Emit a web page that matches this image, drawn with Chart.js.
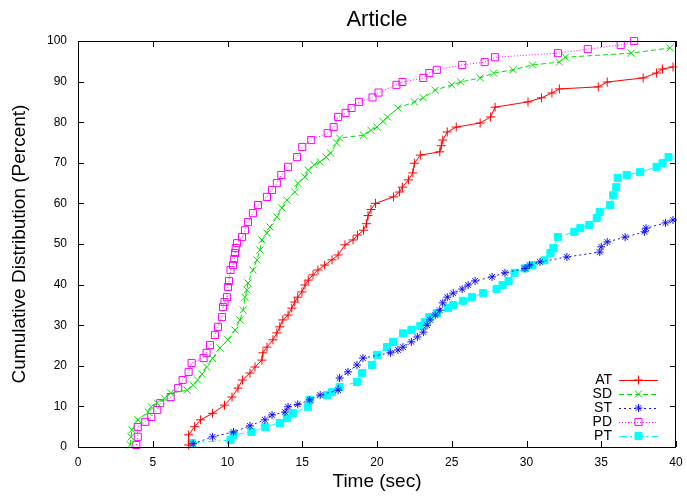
<!DOCTYPE html>
<html>
<head>
<meta charset="utf-8">
<script src="https://cdn.jsdelivr.net/npm/chart.js@4/dist/chart.umd.min.js"></script>
<style>
  html, body { margin: 0; padding: 0; background: #fff; }
  #wrap { width: 687px; height: 497px; }
</style>
</head>
<body>
<div id="wrap"><canvas id="cdf"></canvas></div>
<script>
// [time (sec), cumulative percent]
const AT = [[7.4,0.5],[7.4,3],[7.8,5],[8.2,6.7],[9.0,8.3],[9.8,10.3],[10.3,12.3],[10.7,14.5],[11,16.5],[11.5,18.2],
  [11.84,19.7],[12.3,21.4],[12.37,23.2],[12.64,24.6],[13.04,26.4],[13.3,28.1],[13.5,29.6],[13.7,31.3],[14.05,32.5],[14.3,34.2],
  [14.5,35.7],[14.7,36.9],[14.98,38.2],[15.18,39.9],[15.4,41.1],[15.72,42.4],[16.05,43.6],[16.5,44.8],[16.99,46.1],[17.4,47.3],
  [17.86,49.8],[18.4,51],[18.7,52.2],[19.1,53.4],[19.3,55],[19.4,57],[19.6,58.5],[19.9,60],[21.1,61.6],[21.5,62.8],
  [21.7,64],[22.1,65.8],[22.4,67.5],[22.5,69.9],[22.9,71.9],[24.2,72.7],[24.3,74.2],[24.4,75.6],[24.7,77.6],[25.3,78.8],
  [26.9,79.8],[27.6,81.3],[27.9,83.7],[30.1,85],[31,86],[31.7,87.2],[32.2,88.2],[34.8,88.7],[35.4,89.9],[37.8,90.9],
  [38.7,92.1],[39.1,93.1],[39.8,93.6]]

const SD = [[3.5,0.5],[3.55,2.5],[3.6,4.2],[4.0,6.7],[4.7,8.6],[4.9,9.9],[5.3,10.8],[5.8,12],[6.2,13.3],[7.3,14],
  [7.7,15.2],[8,16.5],[8.3,18],[8.6,19.7],[9.0,21.8],[9.5,24.4],[10.03,26.4],[10.5,28.8],[10.84,31.3],[11.04,33.7],
  [11.17,36.9],[11.3,38.7],[11.37,40.4],[11.7,43.6],[11.97,46.1],[12.17,48.5],[12.3,51],[12.64,52.7],[12.84,54.2],[13.3,56.7],
  [13.64,58.9],[13.98,60.8],[14.5,62.8],[14.7,65],[15.18,66.5],[15.4,68.2],[15.8,69.5],[16.2,70.2],[16.6,71.4],[16.9,72.4],
  [17.3,74.9],[17.5,76.1],[19.1,76.8],[19.6,78],[20,78.8],[20.4,80.2],[20.7,81.3],[21.4,83.5],[22.5,85],[23.1,86],
  [23.9,87.9],[25,89.2],[25.6,89.9],[26.9,90.9],[27.8,92.1],[29.1,92.9],[30.4,94.1],[32.2,94.8],[32.6,96],[37,97],
  [39.6,98.3]]

const ST = [[7.7,0.8],[9.0,2.5],[10.4,3.7],[11.5,5.2],[12.5,6.7],[12.98,7.9],[13.85,8.6],[14.05,9.9],[14.7,10.5],[15.5,11.6],
  [16.2,12.8],[17.4,14],[17.5,17],[18.06,18.5],[18.66,20.2],[19.06,21.9],[20.9,23.2],[21.4,23.9],[21.74,24.6],[22.3,25.9],
  [22.7,27.1],[23.1,28.3],[23.35,30],[23.55,31.3],[23.9,32.5],[24.2,33.7],[24.4,35.5],[24.7,36.9],[25.1,37.9],[25.7,38.9],
  [26.1,39.9],[26.56,40.9],[27.7,41.9],[28.56,42.9],[29.9,44],[30.2,44.8],[30.9,45.6],[32.7,46.8],[34.9,48],[35,49.3],
  [35.4,50.5],[36.6,51.7],[37.9,53],[38,53.9],[39.3,55.2],[39.8,55.9]]

const PD = [[3.9,0.5],[4,2.5],[4.0,4.9],[4.5,6.2],[4.9,7.4],[5.3,9.1],[5.5,10.8],[6.2,12.3],[6.7,14.5],[7.0,16.5],
  [7.4,18.5],[7.6,20.7],[8.4,21.9],[8.6,23.2],[8.83,25.1],[9.16,27.6],[9.36,29.6],[9.63,32],[9.7,34.5],[9.8,35.7],
  [9.97,36.9],[10.03,39.4],[10.1,40.9],[10.2,43.6],[10.37,44.8],[10.45,46.3],[10.5,47.8],[10.55,49],[10.64,50.2],[10.97,51.7],
  [11.17,53.4],[11.37,55.4],[11.7,57.6],[12.04,59.6],[12.64,61.6],[12.98,63.3],[13.3,65],[13.6,67],[14.05,69],[14.65,71.4],
  [15,73.9],[15.6,75.6],[16.7,77.3],[17.1,78.8],[17.4,81.3],[17.9,82.3],[18.3,83.5],[18.8,85],[19.7,86.1],[20.1,87.3],
  [21.3,89.2],[21.7,89.9],[23.1,90.9],[23.5,92.1],[24,92.9],[25.7,94.1],[27.2,94.8],[27.9,96],[32.1,97],[34.1,98],
  [36.3,99],[37.2,100]]

const PT = [[7.6,1],[10.2,1.7],[10.4,3],[11.6,3.7],[12.5,4.9],[13.5,5.9],[13.98,7.1],[14.4,8.3],[15.38,9.9],[15.5,11.6],
  [16.66,12.8],[16.99,13.5],[17.5,14.8],[18.66,16],[19,18.2],[19.67,20.2],[20,22.7],[20.67,24.6],[21.07,25.9],[21.74,28],
  [22.3,28.8],[22.9,29.8],[23.2,30.8],[23.5,32],[24,33],[24.75,34.2],[25.1,35],[25.75,36],[26.35,36.9],[27.1,37.9],
  [28,38.9],[28.4,39.9],[28.8,40.9],[29.2,42.9],[29.9,44],[30.4,44.8],[31.2,46],[31.6,47.8],[31.8,49],[32.1,51.7],
  [33.2,53],[33.6,53.9],[34.2,54.7],[34.7,56.4],[34.9,57.9],[35.6,59.6],[35.8,62],[36,64],[36.1,66.3],[36.7,67],
  [37.6,67.7],[38.7,69],[39.1,69.9],[39.5,71.4]]

const xTicks = [0, 5, 10, 15, 20, 25, 30, 35, 40]
const yTicks = [0, 10, 20, 30, 40, 50, 60, 70, 80, 90, 100]

const TITLE = 'Article'
const FONT = 'Liberation Sans, Arial, Helvetica, sans-serif'

const toPoints = (rows) => rows.map(([x, y]) => ({ x, y }))

const series = [
  { label: 'AT', rows: AT, color: '#ff0000', style: 'cross', radius: 4.5, dash: [], fill: false },
  { label: 'SD', rows: SD, color: '#00e000', style: 'crossRot', radius: 5, dash: [5, 3], fill: false },
  { label: 'ST', rows: ST, color: '#1010ff', style: 'star', radius: 4, dash: [2, 3], fill: false },
  { label: 'PD', rows: PD, color: '#ff00ff', style: 'rect', radius: 5, dash: [1, 2], fill: false },
  { label: 'PT', rows: PT, color: '#00ffff', style: 'rect', radius: 5, dash: [8, 3, 2, 3], fill: true }
]

// gnuplot look: black frame with ticks pointing inward on all four sides,
// title centred over the plot area rather than the whole canvas
const framePlugin = {
  id: 'frame',
  afterDatasetsDraw(chart) {
    const { ctx, chartArea: a, scales } = chart
    ctx.save()
    ctx.strokeStyle = '#000'
    ctx.lineWidth = 1
    ctx.setLineDash([])
    ctx.strokeRect(a.left + 0.5, a.top + 0.5, a.right - a.left - 1, a.bottom - a.top)
    ctx.beginPath()
    xTicks.forEach(v => {
      const px = Math.round(scales.x.getPixelForValue(v)) + 0.5
      ctx.moveTo(px, a.bottom); ctx.lineTo(px, a.bottom - 6)
      ctx.moveTo(px, a.top); ctx.lineTo(px, a.top + 6)
    })
    yTicks.forEach(v => {
      const py = Math.round(scales.y.getPixelForValue(v)) + 0.5
      ctx.moveTo(a.left, py); ctx.lineTo(a.left + 6, py)
      ctx.moveTo(a.right, py); ctx.lineTo(a.right - 6, py)
    })
    ctx.stroke()

    ctx.fillStyle = '#000'
    ctx.font = '22px ' + FONT
    ctx.textAlign = 'center'
    ctx.textBaseline = 'middle'
    ctx.fillText(TITLE, (a.left + a.right) / 2, 20)
    ctx.restore()
  }
}

// key in the lower right: label, then line sample with its marker
const keyPlugin = {
  id: 'key',
  afterDraw(chart) {
    const { ctx, chartArea: a } = chart
    ctx.save()
    ctx.font = '14px ' + FONT
    ctx.textAlign = 'right'
    ctx.textBaseline = 'middle'
    chart.data.datasets.forEach((ds, i) => {
      const y = a.bottom - 67 + i * 14
      const x1 = a.right - 57
      const x2 = a.right - 18
      ctx.fillStyle = '#000'
      ctx.fillText(ds.label, a.right - 64, y)
      ctx.strokeStyle = ds.borderColor
      ctx.lineWidth = 1
      ctx.setLineDash(ds.borderDash)
      ctx.beginPath(); ctx.moveTo(x1, y + 0.5); ctx.lineTo(x2, y + 0.5); ctx.stroke()
      ctx.setLineDash([])
      ctx.fillStyle = ds.pointBackgroundColor
      ctx.strokeStyle = ds.borderColor
      Chart.helpers.drawPoint(ctx, { pointStyle: ds.pointStyle, radius: ds.pointRadius, borderWidth: 1, rotation: 0 }, (x1 + x2) / 2, y)
    })
    ctx.restore()
  }
}

const noEdgePadding = (scale) => {
  scale.paddingLeft = 0
  scale.paddingRight = 0
  scale.paddingTop = 0
  scale.paddingBottom = 0
}

new Chart(document.getElementById('cdf'), {
  type: 'scatter',
  data: {
    datasets: series.map(s => ({
      label: s.label,
      data: toPoints(s.rows),
      showLine: true,
      borderColor: s.color,
      borderWidth: 1,
      borderDash: s.dash,
      pointStyle: s.style,
      pointRadius: s.radius,
      pointBorderWidth: 1,
      pointBorderColor: s.color,
      pointBackgroundColor: s.fill ? s.color : 'rgba(0,0,0,0)',
      clip: false
    }))
  },
  plugins: [framePlugin, keyPlugin],
  options: {
    responsive: true,
    maintainAspectRatio: false,
    animation: false,
    layout: { padding: { left: 0, right: 11, top: 41, bottom: 0 } },
    plugins: {
      legend: { display: false },
      tooltip: { enabled: false },
      title: { display: false }
    },
    scales: {
      x: {
        type: 'linear',
        min: 0,
        max: 40,
        afterFit: (scale) => { scale.height = 50; noEdgePadding(scale) },
        afterBuildTicks: (scale) => { scale.ticks = xTicks.map(v => ({ value: v })) },
        grid: { display: false, drawTicks: false },
        border: { display: false },
        ticks: { color: '#000', padding: 8, maxRotation: 0, autoSkip: false, font: { family: FONT, size: 12 } },
        title: {
          display: true,
          text: 'Time (sec)',
          color: '#000',
          font: { family: FONT, size: 19 },
          padding: { top: 0, bottom: 3.6 }
        }
      },
      y: {
        type: 'linear',
        min: 0,
        max: 100,
        afterFit: (scale) => { scale.width = 78; noEdgePadding(scale) },
        afterBuildTicks: (scale) => { scale.ticks = yTicks.map(v => ({ value: v })) },
        grid: { display: false, drawTicks: false },
        border: { display: false },
        ticks: { color: '#000', padding: 11, autoSkip: false, font: { family: FONT, size: 12 } },
        title: {
          display: true,
          text: 'Cumulative Distribution (Percent)',
          color: '#000',
          font: { family: FONT, size: 19 },
          padding: { top: 8.6, bottom: 0 }
        }
      }
    }
  }
})
</script>
</body>
</html>
